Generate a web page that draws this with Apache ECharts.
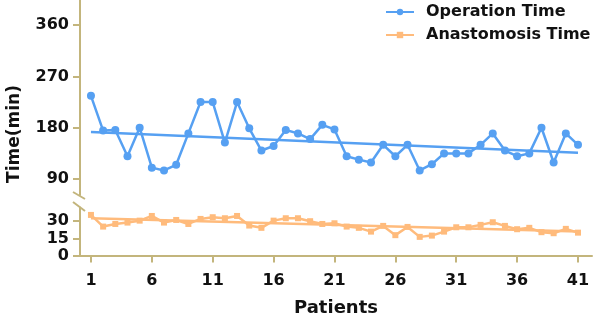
<!DOCTYPE html>
<html>
<head>
<meta charset="utf-8">
<script src="https://cdn.jsdelivr.net/npm/echarts@6/dist/echarts.min.js"></script>
<style>
  html, body { margin: 0; padding: 0; background: #fff; }
  #main { width: 597px; height: 319px; }
</style>
</head>
<body>
<div id="main"></div>
<script>
// patients 1..41
const patients = Array.from({ length: 41 }, (_, i) => i + 1);
// operation time (min)
const operationTime = [236, 175, 176, 130, 180, 110, 105, 115, 170, 225, 225, 154, 225, 179, 140, 148, 176, 170, 160, 185, 177,
  130, 124, 119, 150, 130, 150, 105, 116, 135, 135, 135, 150, 170, 140, 130, 135, 180, 119, 170, 150];
// anastomosis time (min)
const anastomosisTime = [35.5, 25.3, 27.6, 28.8, 30.5, 34.6, 28.8, 31.1, 27.6, 32, 33.5, 32.6, 34.6, 26.2, 24.2, 30.5, 32.6, 32.6, 30, 27.6, 28.2,
  25.3, 24.2, 20.9, 25.9, 17.8, 25, 16.3, 17.4, 20.9, 24.7, 24.7, 26.8, 29.1, 25.9, 23, 24.2, 20.4, 19.5, 23.3, 20];
// trend lines (value at patient 1 and patient 41)
const operationTrend = [172.5, 136];
const anastomosisTrend = [32.5, 21];
// tick labels
const xTicks = [1, 6, 11, 16, 21, 26, 31, 36, 41];
const upperTicks = [90, 180, 270, 360];
const lowerTicks = [0, 15, 30];

const axisColor = '#c3b57c';
const blue = '#56a0f2';
const orange = '#ffbb7c';
const font = 'DejaVu Sans';

const myChart = echarts.init(document.getElementById('main'));

const pairs = (ys) => patients.map((p, i) => [p, ys[i]]);

const yAxisBase = {
  type: 'value',
  splitLine: { show: false },
  axisLine: { show: true, lineStyle: { color: axisColor, width: 2 } },
  axisTick: { show: true, length: 7, lineStyle: { color: axisColor, width: 2 } },
  axisLabel: { color: '#111', fontFamily: font, fontWeight: 'bold', fontSize: 16, margin: 11 }
};

let options = {
  animation: false,
  grid: [
    { left: 80, width: 512, top: 0, height: 195 },
    { left: 80, width: 512, top: 207.5, height: 48 }
  ],
  legend: {
    data: ['Operation Time', 'Anastomosis Time'],
    orient: 'vertical',
    left: 380,
    top: -1,
    itemWidth: 28,
    itemHeight: 8,
    itemGap: 7,
    textStyle: { color: '#111', fontFamily: font, fontWeight: 'bold', fontSize: 16, lineHeight: 16, padding: [0, 0, 0, 7] }
  },
  xAxis: [
    { gridIndex: 0, type: 'value', min: 0.1, max: 42.15, show: false },
    {
      gridIndex: 1, type: 'value', min: 0.1, max: 42.15,
      name: 'Patients', nameLocation: 'middle', nameGap: 44,
      nameTextStyle: { color: '#111', fontFamily: font, fontWeight: 'bold', fontSize: 18 },
      splitLine: { show: false },
      axisLine: { show: true, lineStyle: { color: axisColor, width: 2 } },
      axisTick: { show: true, length: 7, customValues: xTicks, lineStyle: { color: axisColor, width: 2 } },
      axisLabel: { customValues: xTicks, color: '#111', fontFamily: font, fontWeight: 'bold', fontSize: 16, margin: 17 }
    }
  ],
  yAxis: [
    Object.assign({}, yAxisBase, {
      gridIndex: 0, min: 62, max: 404,
      axisTick: Object.assign({}, yAxisBase.axisTick, { customValues: upperTicks }),
      axisLabel: Object.assign({}, yAxisBase.axisLabel, { customValues: upperTicks })
    }),
    Object.assign({}, yAxisBase, {
      gridIndex: 1, min: 0, max: 42,
      axisTick: Object.assign({}, yAxisBase.axisTick, { customValues: lowerTicks }),
      axisLabel: Object.assign({}, yAxisBase.axisLabel, { customValues: lowerTicks })
    })
  ],
  graphic: [
    // y axis title
    {
      type: 'text', x: 15, y: 134, rotation: Math.PI / 2,
      style: { text: 'Time(min)', fill: '#111', font: 'bold 17px "DejaVu Sans"', textAlign: 'center', textVerticalAlign: 'middle' }
    },
    // axis break marks
    { type: 'line', shape: { x1: 73, y1: 192, x2: 85, y2: 199 }, style: { stroke: axisColor, lineWidth: 2 } },
    { type: 'line', shape: { x1: 73, y1: 202, x2: 85, y2: 211 }, style: { stroke: axisColor, lineWidth: 2 } }
  ],
  series: [
    {
      name: 'Operation Trend', type: 'line', xAxisIndex: 0, yAxisIndex: 0,
      data: [[1, operationTrend[0]], [41, operationTrend[1]]],
      symbol: 'none', lineStyle: { color: blue, width: 2.5 }, z: 1
    },
    {
      name: 'Operation Time', type: 'line', xAxisIndex: 0, yAxisIndex: 0,
      data: pairs(operationTime),
      symbol: 'circle', symbolSize: 8,
      itemStyle: { color: blue }, lineStyle: { color: blue, width: 2.5 }, z: 2
    },
    {
      name: 'Anastomosis Trend', type: 'line', xAxisIndex: 1, yAxisIndex: 1,
      data: [[1, anastomosisTrend[0]], [41, anastomosisTrend[1]]],
      symbol: 'none', lineStyle: { color: orange, width: 2.5 }, z: 1
    },
    {
      name: 'Anastomosis Time', type: 'line', xAxisIndex: 1, yAxisIndex: 1,
      data: pairs(anastomosisTime),
      symbol: 'rect', symbolSize: 6,
      itemStyle: { color: orange }, lineStyle: { color: orange, width: 2.5 }, z: 2
    }
  ]
};

myChart.setOption(options);
</script>
</body>
</html>
